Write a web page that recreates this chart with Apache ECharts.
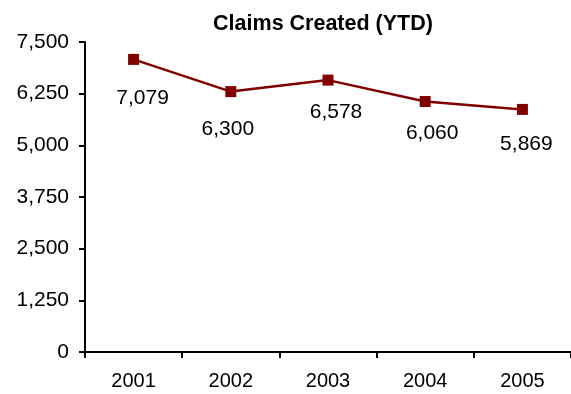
<!DOCTYPE html>
<html>
<head>
<meta charset="utf-8">
<script src="https://cdn.jsdelivr.net/npm/echarts@6/dist/echarts.min.js"></script>
<style>
  html, body { margin: 0; padding: 0; background: #fff; }
  #chart { width: 571px; height: 394px; }
</style>
</head>
<body>
<div id="chart"></div>
<script>
// Claims created per year, year-to-date
const years = ['2001', '2002', '2003', '2004', '2005'];
const claims = [7079, 6300, 6578, 6060, 5869];
const yTicks = [0, 1250, 2500, 3750, 5000, 6250, 7500];

const chart = echarts.init(document.getElementById('chart'));
const fmt = v => Number(v).toLocaleString('en-US');
const FONT = 'Liberation Sans, Arial, sans-serif';

// hand-placed nudges for the value labels (px, relative to the default spot below each marker)
const labelNudges = [[9, 1], [-3, 0], [8, -5], [7, -6], [4, -3]];

chart.setOption({
  animation: false,
  textStyle: { fontFamily: FONT },
  title: {
    text: 'Claims Created (YTD)',
    left: 318,
    textAlign: 'center',
    top: 8,
    textStyle: { fontSize: 21.5, fontWeight: 'bold', color: '#000', fontFamily: FONT }
  },
  grid: { left: 85, top: 42, width: 491, height: 310, containLabel: false },
  xAxis: {
    type: 'category',
    data: years,
    boundaryGap: true,
    axisLine: { lineStyle: { color: '#000', width: 2 } },
    axisTick: { show: true, length: 6, lineStyle: { color: '#000', width: 2 } },
    axisLabel: { color: '#000', fontSize: 20, margin: 19 },
    splitLine: { show: false }
  },
  yAxis: {
    type: 'value',
    min: yTicks[0],
    max: yTicks[yTicks.length - 1],
    interval: yTicks[1] - yTicks[0],
    axisLine: { show: true, lineStyle: { color: '#000', width: 2 } },
    axisTick: { show: true, length: 6, lineStyle: { color: '#000', width: 2 } },
    axisLabel: { color: '#000', fontSize: 21, margin: 16, formatter: fmt },
    splitLine: { show: false }
  },
  series: [{
    type: 'line',
    data: claims.map((v, i) => ({ value: v, label: { offset: labelNudges[i] } })),
    symbol: 'rect',
    symbolSize: 11,
    itemStyle: { color: '#800000' },
    lineStyle: { color: '#800000', width: 2.5 },
    label: {
      show: true,
      position: 'bottom',
      distance: 21.5,
      color: '#000',
      fontSize: 21,
      formatter: p => fmt(p.value)
    }
  }]
});
</script>
</body>
</html>
